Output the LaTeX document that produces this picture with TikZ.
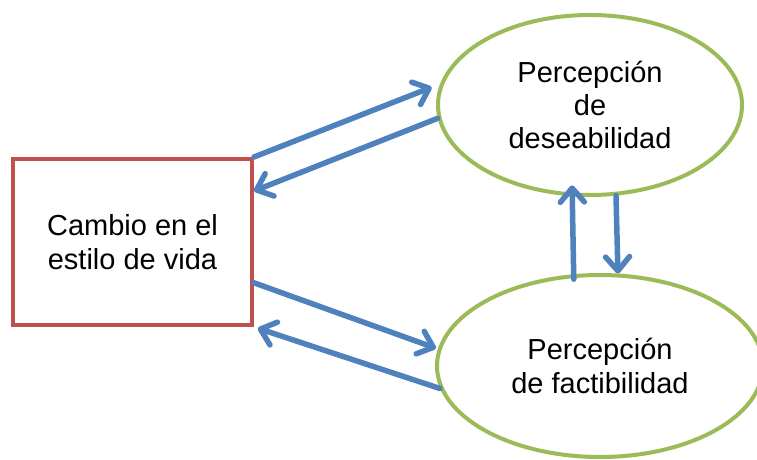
\documentclass[tikz,border=0pt]{standalone}
\usepackage{fontspec}
\setmainfont{Liberation Sans}
\usetikzlibrary{arrows.meta,calc,shapes.geometric}
\definecolor{ablue}{RGB}{79,129,189}
\definecolor{ared}{RGB}{192,80,77}
\definecolor{agreen}{RGB}{155,187,89}
\begin{document}
\begin{tikzpicture}[x=1pt,y=1pt,
  lbl/.style={font=\fontsize{29}{33.3}\selectfont, align=center, inner sep=0pt},
  boxnode/.style={lbl, draw=ared, line width=4pt, minimum width=239pt, minimum height=166pt},
  ellnode/.style={lbl, ellipse, draw=agreen, line width=4pt},
  conn/.style={draw=ablue, line width=5.5pt, line cap=round, -{Straight Barb[length=14pt,width=24pt,round]}}]
\useasboundingbox (0,0) rectangle (757,460);
\node[boxnode] (box) at (132.5,218) {Cambio en el\\estilo de vida};
\node[ellnode, minimum width=304pt, minimum height=180pt] (top) at (590,355) {Percepción\\de\\deseabilidad};
\node[ellnode, minimum width=326pt, minimum height=182pt] (bot) at (600,94) {Percepción\\de factibilidad};
\draw[conn, shorten >=9pt] (box.north east) -- (top.172);
\draw[conn] (top.185) -- ($(box.north east)!0.2!(box.south east)$);
\draw[conn, shorten >=2pt] ($(box.north east)!0.74!(box.south east)$) -- (bot.174);
\draw[conn, shorten >=4pt] (bot.188) -- (box.south east);
\draw[conn, shorten <=-5pt, shorten >=-11pt] (bot.106.8) -- (top.259.2);
\draw[conn] (top.286.9) -- (bot.79.4);
\end{tikzpicture}
\end{document}
